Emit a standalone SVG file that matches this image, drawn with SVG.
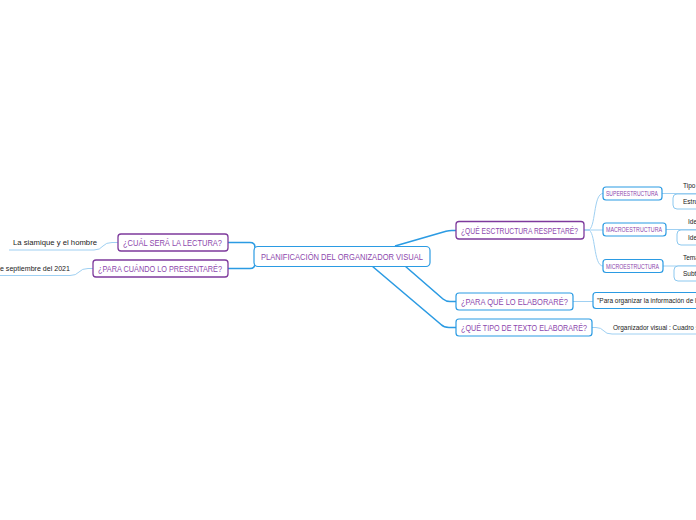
<svg xmlns="http://www.w3.org/2000/svg" width="696" height="520" viewBox="0 0 696 520">
<style>
.bg{fill:#ffffff}
.main{fill:none;stroke:#2b9be3;stroke-width:1.6}
.sub{fill:none;stroke:#9fd0f2;stroke-width:1}
.bx{fill:#ffffff;stroke:#2b9be3;stroke-width:1.2}
.bp{fill:#ffffff;stroke:#7e3a9c;stroke-width:1.3}
.bl{fill:#ffffff;stroke:#8cc8ef;stroke-width:1}
.t{font-family:"Liberation Sans","DejaVu Sans",sans-serif;fill:#8d47ad}
.l{font-family:"Liberation Sans","DejaVu Sans",sans-serif;fill:#222222;font-size:6.5px}
</style>
<rect class="bg" width="696" height="520"/>
<g id="connectors">
<path class="main" d="M395,246 L446,231.2 Q449,230.5 452,230.5 H456"/>
<path class="main" d="M405,266 L443,299 Q446,301.5 450,301.5 H456"/>
<path class="main" d="M372,266 L441,324.5 Q444,327.5 449,327.5 H456"/>
<path class="main" d="M228,242.5 H250 Q255,242.5 255,247.5 V263.5 Q255,268.5 250,268.5 H228"/>
<path class="sub" d="M118,242.5 H112 Q106,242.5 103,246 Q100,250 94,250 H9"/>
<path class="sub" d="M93,268.5 H88 Q82,268.5 79,272 Q76,275.5 70,275.5 H0"/>
<path class="sub" d="M584,230 H588 C596,230 593,193.5 603,193.5"/>
<path class="sub" d="M584,230 H603"/>
<path class="sub" d="M584,230 H588 C596,230 593,266 603,266"/>
<path class="sub" d="M662,193.5 H696"/>
<path class="sub" d="M666,229.5 H696"/>
<path class="sub" d="M663,266 H696"/>
<path class="sub" d="M573,301.5 H593"/>
<path class="sub" d="M592,327.5 H596 Q601,327.5 604,331 Q606,334 612,334 H696"/>
</g>
<g id="central">
<rect class="bx" x="254" y="246.5" width="176" height="20" rx="4"/>
<text class="t" x="261" y="259.5" font-size="9" textLength="162" lengthAdjust="spacingAndGlyphs">PLANIFICACIÓN DEL ORGANIZADOR VISUAL</text>
</g>
<g id="estructura">
<rect class="bp" x="456" y="221.5" width="128" height="17.5" rx="3"/>
<text class="t" x="461" y="233.5" font-size="8.5" textLength="117" lengthAdjust="spacingAndGlyphs">¿QUÉ ESCTRUCTURA RESPETARÉ?</text>
</g>
<g id="para-que">
<rect class="bx" x="456" y="293" width="117" height="17" rx="3"/>
<text class="t" x="461" y="304.5" font-size="8.5" textLength="107" lengthAdjust="spacingAndGlyphs">¿PARA QUÉ LO ELABORARÉ?</text>
</g>
<g id="tipo-texto">
<rect class="bx" x="456" y="319" width="136" height="17" rx="3"/>
<text class="t" x="461" y="330.5" font-size="8.5" textLength="126" lengthAdjust="spacingAndGlyphs">¿QUÉ TIPO DE TEXTO ELABORARÉ?</text>
</g>
<g id="lectura">
<rect class="bp" x="118" y="234" width="110" height="17" rx="3"/>
<text class="t" x="123" y="245.5" font-size="8.5" textLength="99" lengthAdjust="spacingAndGlyphs">¿CUÁL SERÁ LA LECTURA?</text>
</g>
<g id="presentare">
<rect class="bp" x="93" y="260" width="135" height="17" rx="3"/>
<text class="t" x="98" y="271.5" font-size="8.5" textLength="124" lengthAdjust="spacingAndGlyphs">¿PARA CUÁNDO LO PRESENTARÉ?</text>
</g>
<g id="leaf-lectura">
<text class="l" x="13" y="245" textLength="84" lengthAdjust="spacingAndGlyphs">La siamique y el hombre</text>
</g>
<g id="leaf-fecha">
<text class="l" x="-4" y="271" textLength="74" lengthAdjust="spacingAndGlyphs">de septiembre del 2021</text>
</g>
<g id="superestructura">
<rect class="bx" x="603" y="187" width="59" height="13" rx="3"/>
<text class="t" x="606" y="196.3" font-size="7" textLength="52" lengthAdjust="spacingAndGlyphs">SUPERESTRUCTURA</text>
</g>
<g id="macroestructura">
<rect class="bx" x="603" y="223" width="63" height="13" rx="3"/>
<text class="t" x="606" y="232.3" font-size="7" textLength="56" lengthAdjust="spacingAndGlyphs">MACROESTRUCTURA</text>
</g>
<g id="microestructura">
<rect class="bx" x="603" y="259.5" width="60" height="13" rx="3"/>
<text class="t" x="606" y="268.8" font-size="7" textLength="53" lengthAdjust="spacingAndGlyphs">MICROESTRUCTURA</text>
</g>
<g id="leaf-tipo">
<text class="l" x="683" y="188">Tipo de texto</text>
</g>
<g id="leaf-estructura">
<rect class="bl" x="673" y="194" width="60" height="15" rx="4"/>
<text class="l" x="683" y="204">Estructura</text>
</g>
<g id="leaf-idea">
<text class="l" x="688" y="224">Idea principal</text>
</g>
<g id="leaf-ideas">
<rect class="bl" x="677" y="230" width="60" height="15" rx="4"/>
<text class="l" x="688" y="240">Ideas secundarias</text>
</g>
<g id="leaf-tema">
<text class="l" x="683" y="260">Tema</text>
</g>
<g id="leaf-subtemas">
<rect class="bl" x="674" y="266" width="60" height="15" rx="4"/>
<text class="l" x="683" y="276">Subtemas</text>
</g>
<g id="leaf-para">
<rect class="bx" x="593" y="292.5" width="130" height="16" rx="3"/>
<text class="l" x="597" y="303">"Para organizar la información de la lectura</text>
</g>
<g id="leaf-organizador">
<text class="l" x="613" y="330" font-size="6.1">Organizador visual : Cuadro sinóptico</text>
</g>
</svg>
